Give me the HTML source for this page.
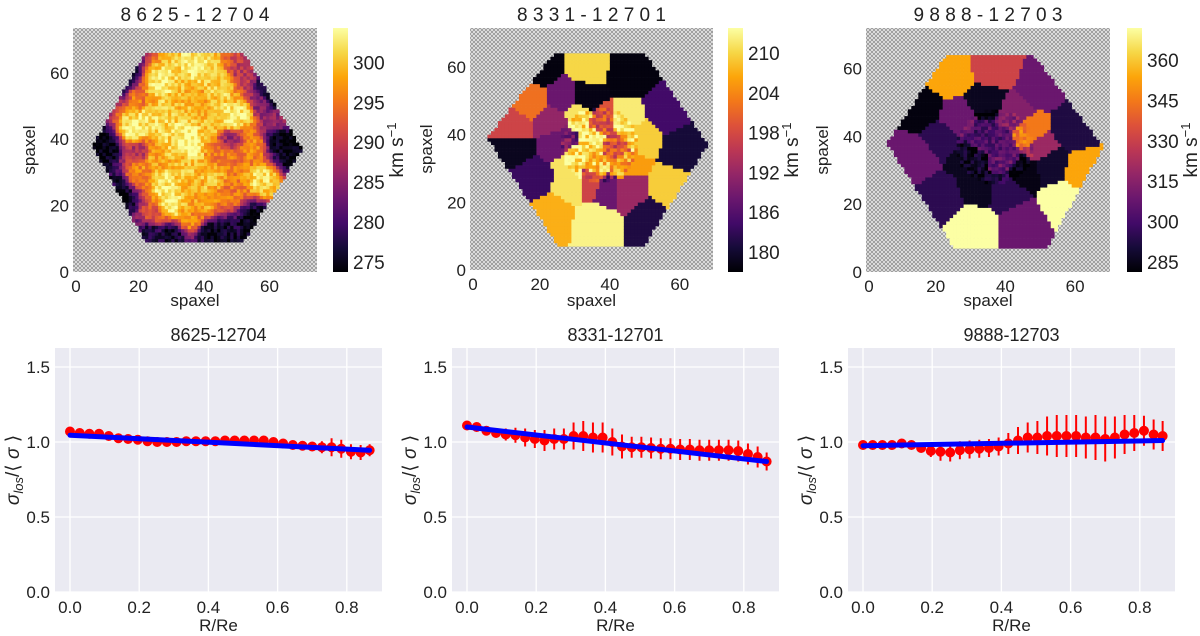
<!DOCTYPE html>
<html><head><meta charset="utf-8"><style>
html,body{margin:0;padding:0;background:#fff;width:1200px;height:636px;overflow:hidden}
svg text{font-family:"Liberation Sans",sans-serif;fill:#222}
</style></head><body>
<svg id="root" width="1200" height="636" viewBox="0 0 1200 636" xmlns="http://www.w3.org/2000/svg">
<defs>
<pattern id="hatch" width="4" height="4" patternUnits="userSpaceOnUse">
<rect width="4" height="4" fill="#f2f2f2"/>
<path d="M0,0L4,4M4,0L0,4" stroke="#9a9a9a" stroke-width="1"/>
</pattern>
<linearGradient id="inferno" x1="0" y1="1" x2="0" y2="0">
<stop offset="0" stop-color="#000004"/><stop offset="0.1" stop-color="#160b39"/><stop offset="0.2" stop-color="#420a68"/><stop offset="0.3" stop-color="#6a176e"/><stop offset="0.4" stop-color="#932667"/><stop offset="0.5" stop-color="#bc3754"/><stop offset="0.6" stop-color="#dd513a"/><stop offset="0.7" stop-color="#f37819"/><stop offset="0.8" stop-color="#fca50a"/><stop offset="0.9" stop-color="#f6d746"/><stop offset="1" stop-color="#fcffa4"/>
</linearGradient>
</defs>
</svg>
<script>
// ---------- profile chart data ----------
const radius = [0,0.028,0.056,0.084,0.112,0.140,0.168,0.196,0.224,0.252,0.280,0.308,0.336,0.364,0.392,0.420,0.448,0.476,0.504,0.532,0.560,0.588,0.616,0.644,0.672,0.700,0.728,0.756,0.784,0.812,0.840,0.866];
const titles = ["8625-12704","8331-12701","9888-12703"];
const prof1 = [1.07,1.06,1.055,1.055,1.04,1.025,1.02,1.015,1.005,1.0,1.0,1.0,1.005,1.005,1.005,1.005,1.01,1.01,1.01,1.01,1.01,1.0,0.99,0.98,0.975,0.97,0.965,0.965,0.955,0.935,0.93,0.945];
const err1 = [0.005,0.005,0.005,0.005,0.005,0.005,0.005,0.005,0.005,0.005,0.005,0.005,0.005,0.005,0.005,0.005,0.005,0.005,0.005,0.005,0.01,0.01,0.015,0.02,0.025,0.03,0.04,0.06,0.06,0.05,0.05,0.04];
const fit1 = [1.045,0.945];
const prof2 = [1.11,1.10,1.075,1.06,1.05,1.045,1.03,1.02,1.01,1.02,1.02,1.04,1.04,1.03,1.03,1.0,0.97,0.965,0.965,0.96,0.955,0.955,0.95,0.95,0.945,0.945,0.945,0.945,0.94,0.92,0.9,0.87];
const err2 = [0.01,0.01,0.02,0.03,0.04,0.05,0.06,0.06,0.07,0.07,0.07,0.09,0.1,0.1,0.1,0.09,0.08,0.07,0.07,0.07,0.07,0.07,0.07,0.07,0.07,0.07,0.07,0.07,0.07,0.07,0.07,0.06];
const fit2 = [1.10,0.87];
const prof3 = [0.98,0.98,0.98,0.98,0.99,0.98,0.96,0.94,0.935,0.93,0.945,0.95,0.955,0.96,0.97,0.99,1.01,1.03,1.03,1.04,1.04,1.04,1.04,1.03,1.03,1.02,1.03,1.05,1.06,1.075,1.05,1.04];
const err3 = [0.01,0.01,0.01,0.01,0.01,0.01,0.03,0.04,0.06,0.06,0.06,0.06,0.06,0.06,0.06,0.07,0.09,0.1,0.11,0.13,0.14,0.14,0.14,0.14,0.15,0.15,0.14,0.13,0.12,0.1,0.1,0.1];
const fit3 = [0.975,1.01];
const xTicks = [0,0.2,0.4,0.6,0.8];
const xTickLabels = ["0.0","0.2","0.4","0.6","0.8"];
const yTicks = [0,0.5,1.0,1.5];
const yTickLabels = ["0.0","0.5","1.0","1.5"];

// ---------- map data (seed: x, y, normalized colour value) ----------
const mapTitles = ["8 6 2 5 - 1 2 7 0 4","8 3 3 1 - 1 2 7 0 1","9 8 8 8 - 1 2 7 0 3"];
const cbTicks1 = [275,280,285,290,295,300];
const cbTicks2 = [180,186,192,198,204,210];
const cbTicks3 = [285,300,315,330,345,360];
const seeds1 = [[36,38,1.0],[34,42,0.97],[18,43,0.97],[22,46,0.95],[30,20,0.97],[28,26,0.95],[48,46,0.97],[52,48,0.95],[58,28,0.93],[26,57,0.95],[45,56,0.9],[38,62,0.95],[10,38,0],[8,36,0],[7,40,0],[66,37,0],[68,35,0],[63,40,0.02],[14,57,0.02],[16,60,0.05],[60,56,0.05],[62,52,0.1],[57,50,0.35],[15,22,0.03],[13,26,0.1],[42,12,0.03],[46,11,0.05],[30,11,0.05],[24,12,0.1],[55,16,0.03],[48,40,0.4],[20,36,0.45],[25,35,0.8],[42,28,0.85],[50,35,0.7],[35,48,0.85],[20,30,0.75],[40,20,0.8],[25,46,0.9],[44,36,0.7],[55,38,0.75],[38,52,0.8],[30,40,0.9],[48,24,0.7],[62,46,0.4],[20,52,0.7],[52,60,0.5],[36,16,0.75],[25,17,0.6],[33,33,0.85],[42,44,0.85]];
const seeds2 = [[20,60,0.02],[34,60,0.9],[45,58,0.02],[17,50,0.68],[12,43,0.55],[27,51,0.3],[33,51,0.03],[56,47,0.2],[12,36,0.05],[26,38,0.3],[24,44,0.4],[17,27,0.18],[62,36,0.1],[58,24,0.88],[23,16,0.82],[36,14,0.97],[52,15,0.12],[45,24,0.42],[40,24,0.3],[35,38,0.95],[45,44,0.95],[30,33,0.93],[41,36,0.6],[48,40,0.88],[31,46,0.93],[44,31,0.78],[30,26,0.93],[34,26,0.55],[38,44,0.6],[36,32,0.85]];
const seeds3 = [[24,58,0.8],[37,60,0.55],[50,55,0.3],[59,42,0.12],[62,30,0.8],[57,21,1.0],[45,14,0.3],[31,14,1.0],[22,22,0.15],[14,34,0.3],[16,48,0.02],[26,45,0.3],[22,40,0.15],[35,50,0.05],[42,47,0.36],[47,41,0.7],[50,37,0.42],[30,33,0.05],[32,25,0.05],[40,24,0.15],[45,30,0.03],[53,32,0.08],[38,38,0.25],[34,40,0.22],[40,34,0.28]];
const hex1 = [[22,66],[52,66],[70,37],[52,9],[22,9],[6,38]];
const hex2 = [[24,64],[50,64],[68,37],[50,7.5],[25,7.5],[5,39]];
const hex3 = [[23,64],[48,64],[68,37],[52,7.5],[25,7.5],[6,38]];

// ---------- helpers ----------
const NS = "http://www.w3.org/2000/svg";
const root = document.getElementById('root');
function el(tag, attrs, parent){const e=document.createElementNS(NS,tag);for(const k in attrs)e.setAttribute(k,attrs[k]);(parent||root).appendChild(e);return e;}
function txt(s, attrs, parent){const e=el('text',attrs,parent);e.textContent=s;return e;}
const inf=[[0,0,4],[22,11,57],[66,10,104],[106,23,110],[147,38,103],[188,55,84],[221,81,58],[243,120,25],[252,165,10],[246,215,70],[252,255,164]];
function cmap(v){v=Math.max(0,Math.min(1,v));const f=v*10,i=Math.min(9,Math.floor(f)),t=f-i;const a=inf[i],b=inf[i+1];return 'rgb('+a.map((c,k)=>Math.round(c+(b[k]-c)*t)).join(',')+')';}
function inPoly(x,y,p){let c=false;for(let i=0,j=p.length-1;i<p.length;j=i++){if(((p[i][1]>y)!=(p[j][1]>y))&&(x<(p[j][0]-p[i][0])*(y-p[i][1])/(p[j][1]-p[i][1])+p[i][0]))c=!c;}return c;}
function hash(i,j,s){let h=(i*374761393+j*668265263+s*2147483647)|0;h=(h^(h>>>13))*1274126177|0;return ((h^(h>>>16))>>>0)/4294967295;}

// ---------- maps ----------
const maps=[
 {x0:73,y0:28,w:244,h:244,sx:74.5,sy:73.5,seeds:seeds1,hex:hex1,mode:'idw',ticks:cbTicks1,vmin:273.75,vmax:304.3,cbx:333,noise:0.2},
 {x0:470,y0:28,w:243,h:242,sx:69.5,sy:71.5,seeds:seeds2,hex:hex2,mode:'vor',ticks:cbTicks2,vmin:176.96,vmax:213.8,cbx:728,noise:0.15},
 {x0:866,y0:28,w:244,h:244,sx:70,sy:72,seeds:seeds3,hex:hex3,mode:'vor',ticks:cbTicks3,vmin:281.3,vmax:371.9,cbx:1127,noise:0.1}
];
maps.forEach((m,mi)=>{
  const g=el('g',{},root);
  
  
  const bg=el('rect',{x:m.x0,y:m.y0,width:m.w,height:m.h,fill:'url(#hatch)'},g);
  
  
  const cw=m.w/m.sx, ch=m.h/m.sy;
  for(let i=0;i<Math.ceil(m.sx);i++)for(let j=0;j<Math.ceil(m.sy);j++){
    const x=i+0.5,y=j+0.5;
    if(!inPoly(x,y,m.hex))continue;
    let v;
    if(m.mode==='idw'){let sw=0,sv=0;m.seeds.forEach(s=>{const d=(s[0]-x)**2+(s[1]-y)**2+1;const w=1/(d*d);sw+=w;sv+=w*s[2];});v=sv/sw+(hash(i,j,mi)-0.5)*m.noise;}
    else{let best=1e9,bv=0;m.seeds.forEach(s=>{const d=(s[0]-x)**2+(s[1]-y)**2;if(d<best){best=d;bv=s[2];}});v=bv;
      const rc=Math.hypot(x-37,y-37);if(rc<11)v+=(hash(i,j,mi)-0.5)*m.noise*2;}
    el('rect',{x:(m.x0+i*cw).toFixed(2),y:(m.y0+m.h-(j+1)*ch).toFixed(2),width:(cw+0.3).toFixed(2),height:(ch+0.3).toFixed(2),fill:cmap(v)},g);
  }
  const t=txt(mapTitles[mi],{x:m.x0+m.w/2,y:21,'font-size':19,'text-anchor':'middle','xml:space':'preserve'},g);
  
  
  [0,20,40,60].forEach(v=>{
    const ty=m.y0+m.h-v*ch;
    const yl=txt(String(v),{x:m.x0-4,y:ty+6,'font-size':17,'text-anchor':'end'},g);
    
    
    const xl=txt(String(v),{x:m.x0+v*cw+(v===0?3:0),y:m.y0+m.h+20,'font-size':17,'text-anchor':'middle'},g);
    
    
  });
  const xt=txt('spaxel',{x:m.x0+m.w/2,y:306,'font-size':17,'text-anchor':'middle'},g);
  
  
  const yt=txt('spaxel',{x:0,y:0,'font-size':17,'text-anchor':'middle',transform:'translate('+(m.x0-38)+','+(m.y0+m.h/2)+') rotate(-90)'},g);
  
  
  const cb=el('rect',{x:m.cbx,y:28,width:15,height:244,fill:'url(#inferno)'},g);
  
  
  m.ticks.forEach(v=>{
    const ty=272-(v-m.vmin)/(m.vmax-m.vmin)*244;
    const l=txt(String(v),{x:m.cbx+20,y:ty+7,'font-size':19},g);
    
    
  });
  const cl=el('text',{x:0,y:0,'font-size':19,'text-anchor':'middle',transform:'translate('+(m.cbx+70)+',150) rotate(-90)'},g);
  cl.innerHTML='km s<tspan dy="-7" font-size="13">−1</tspan>';
  
  
});

// ---------- profile charts ----------
const profs=[prof1,prof2,prof3], errs=[err1,err2,err3], fits=[fit1,fit2,fit3];
const lefts=[55,452,848];
const PW=327, PT=348, PB=592, Y0PX=70-55;
profs.forEach((vals,ci)=>{
  const L=lefts[ci];
  const xs=v=>L+Y0PX+v*346;
  const ys=v=>PB-v*150;
  const g=el('g',{},root);
  
  
  const bg=el('rect',{x:L,y:PT,width:PW,height:PB-PT,fill:'#eaeaf2'},g);
  
  
  xTicks.forEach((v,k)=>{
    const gl=el('line',{x1:xs(v),x2:xs(v),y1:PT,y2:PB,stroke:'#fff','stroke-width':1.3},g);
    
    
    const tl=txt(xTickLabels[k],{x:xs(v),y:PB+21,'font-size':17,'text-anchor':'middle'},g);
    
    
  });
  yTicks.forEach((v,k)=>{
    const gl=el('line',{x1:L,x2:L+PW,y1:ys(v),y2:ys(v),stroke:'#fff','stroke-width':1.3},g);
    
    
    const tl=txt(yTickLabels[k],{x:L-5,y:ys(v)+6,'font-size':17,'text-anchor':'end'},g);
    
    
  });
  const tt=txt(titles[ci],{x:L+PW/2,y:341,'font-size':18,'text-anchor':'middle'},g);
  
  
  const xl=txt('R/Re',{x:L+PW/2,y:631,'font-size':17,'text-anchor':'middle'},g);
  
  
  const yl=el('text',{x:0,y:0,'font-size':19,'text-anchor':'middle',transform:'translate('+(L-36)+',470) rotate(-90)'},g);
  yl.innerHTML='<tspan font-style="italic">σ</tspan><tspan dy="4" font-size="13" font-style="italic">los</tspan><tspan dy="-4">/⟨ </tspan><tspan font-style="italic">σ</tspan><tspan> ⟩</tspan>';
  
  
  vals.forEach((v,k)=>{
    const e=errs[ci][k];
    const eb=el('line',{x1:xs(radius[k]),x2:xs(radius[k]),y1:ys(v-e),y2:ys(v+e),stroke:'#ff0000','stroke-width':2},g);
    
    
    const pt=el('circle',{cx:xs(radius[k]),cy:ys(v),r:5,fill:'#ff0000'},g);
    
    
  });
  const f=fits[ci];
  const fl=el('line',{x1:xs(radius[0]),y1:ys(f[0]),x2:xs(radius[radius.length-1]),y2:ys(f[1]),stroke:'#0000ff','stroke-width':5,'stroke-linecap':'round'},g);
  
  
});
</script>
</body></html>
